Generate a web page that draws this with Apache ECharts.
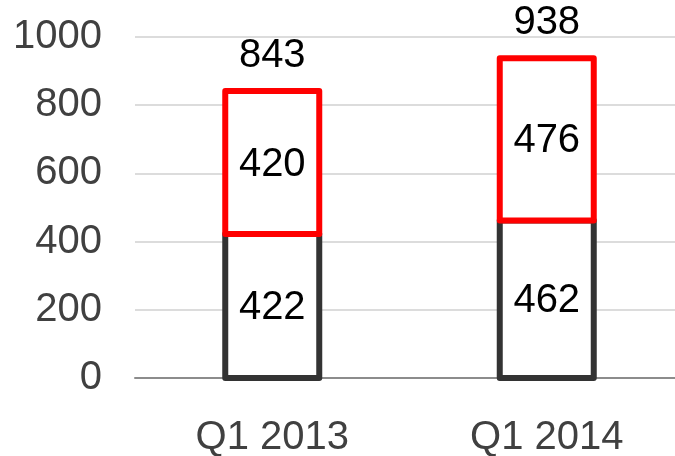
<!DOCTYPE html>
<html>
<head>
<meta charset="utf-8">
<script src="https://cdn.jsdelivr.net/npm/echarts@6/dist/echarts.min.js"></script>
<style>
  html, body { margin: 0; padding: 0; background: #fff; }
  #main { width: 675px; height: 456px; }
</style>
</head>
<body>
<div id="main"></div>
<script>
  // 数据
  var categories = ['Q1 2013', 'Q1 2014'];
  var baseValues = [422, 462];   // 下半部分（深灰框）
  var topValues = [420, 476];    // 上半部分（红框）
  var totals = [843, 938];       // 柱顶合计

  var fontName = '"Liberation Sans", Arial, sans-serif';
  var barW = 94, lineW = 6;

  // 堆叠段：[类目序号, 起点, 终点, 显示值]
  function segments(bottoms, vals) {
    return vals.map(function (v, i) {
      var b = bottoms ? bottoms[i] : 0;
      return [i, b, b + v, v];
    });
  }

  function segRender(stroke) {
    return function (params, api) {
      var p0 = api.coord([api.value(0), api.value(1)]);
      var p1 = api.coord([api.value(0), api.value(2)]);
      return {
        type: 'group',
        children: [
          {
            type: 'rect',
            shape: { x: p0[0] - barW / 2, y: p1[1], width: barW, height: p0[1] - p1[1] },
            style: { fill: '#fff', stroke: stroke, lineWidth: lineW, lineJoin: 'round' }
          },
          {
            type: 'text',
            x: p0[0],
            y: (p0[1] + p1[1]) / 2 + 2,
            style: {
              text: String(api.value(3)), fill: '#000', fontSize: 40, fontFamily: fontName,
              align: 'center', verticalAlign: 'middle'
            }
          }
        ]
      };
    };
  }

  var chart = echarts.init(document.getElementById('main'), null, { renderer: 'canvas' });

  var option = {
    animation: false,
    backgroundColor: '#fff',
    grid: { left: 135, right: -9, top: 37, bottom: 78, outerBoundsMode: 'none', containLabel: false },
    xAxis: {
      type: 'category',
      data: categories,
      axisLine: { lineStyle: { color: '#8c8c8c', width: 2 } },
      axisTick: { show: false },
      axisLabel: { color: '#404040', fontSize: 40, fontFamily: fontName, margin: 40 }
    },
    yAxis: {
      type: 'value',
      min: 0,
      max: 1000,
      interval: 200,
      axisLine: { show: false },
      axisTick: { show: false },
      splitLine: { lineStyle: { color: '#d0d0d0', width: 1.5 } },
      axisLabel: {
        color: '#404040', fontSize: 40, fontFamily: fontName, margin: 33,
        formatter: function (v) { return String(v); }
      }
    },
    series: [
      {
        type: 'custom',
        data: segments(null, baseValues),
        renderItem: segRender('#333333'),
        z: 3
      },
      {
        type: 'custom',
        data: segments(baseValues, topValues),
        renderItem: segRender('#ff0000'),
        z: 4
      },
      {
        // 合计标签
        type: 'custom',
        data: totals.map(function (t, i) { return [i, t]; }),
        renderItem: function (params, api) {
          var p = api.coord([api.value(0), api.value(1)]);
          return {
            type: 'text',
            x: p[0],
            y: p[1] - 35,
            style: {
              text: String(api.value(1)), fill: '#000', fontSize: 40, fontFamily: fontName,
              align: 'center', verticalAlign: 'middle'
            }
          };
        },
        z: 5
      }
    ]
  };

  chart.setOption(option);
</script>
</body>
</html>
